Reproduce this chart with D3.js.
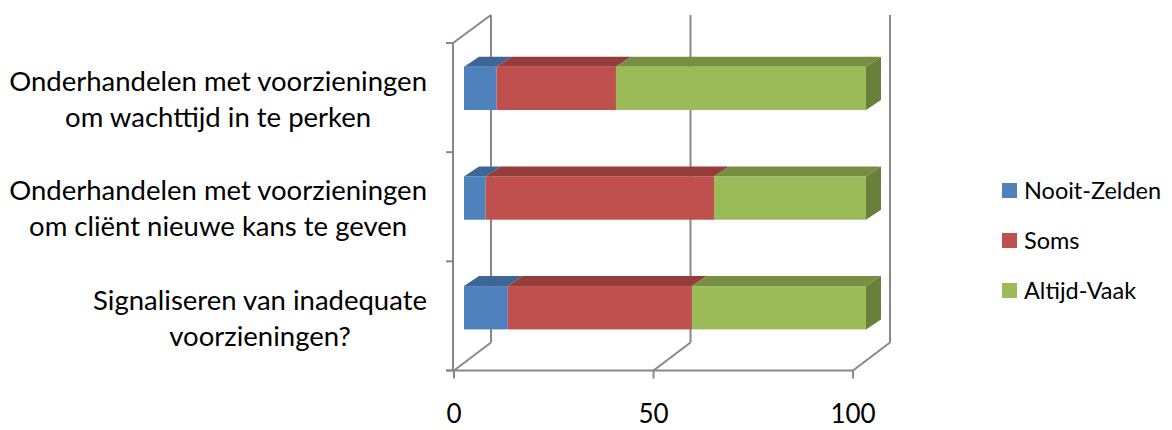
<!DOCTYPE html>
<html>
<head>
<meta charset="utf-8">
<script src="https://cdn.jsdelivr.net/npm/d3@7"></script>
<style>
  html, body { margin: 0; padding: 0; background: #fff; }
  svg { display: block; }
  text { font-family: Lato, "Open Sans", sans-serif; fill: #000; }
</style>
</head>
<body>
<svg id="chart" width="1172" height="430"></svg>
<script>
// Categories, top to bottom
const categories = [
  ["Onderhandelen met voorzieningen", "om wachttijd in te perken"],
  ["Onderhandelen met voorzieningen", "om cliënt nieuwe kans te geven"],
  ["Signaliseren van inadequate", "voorzieningen?"]
];
const seriesNames = ["Nooit-Zelden", "Soms", "Altijd-Vaak"];
const nooitZelden = [8.1, 5.4, 10.9];
const soms = [29.7, 56.8, 45.8];
const altijdVaak = [62.2, 37.8, 43.3];
const tickValues = [0, 50, 100];

const colors = {
  front: ["#4f81bd", "#c0504d", "#9bbb59"],
  top:   ["#3d6596", "#953d3b", "#788f43"],
  side:  ["#34567f", "#7e3331", "#67803a"]
};
const gridColor = "#888888";

const svg = d3.select("#chart");
const keys = categories.map((c, i) => "c" + i);

// Rows for the stack
const rows = keys.map((k, i) => ({
  key: k,
  "Nooit-Zelden": nooitZelden[i],
  "Soms": soms[i],
  "Altijd-Vaak": altijdVaak[i]
}));
const stacked = d3.stack().keys(seriesNames)(rows);

// Projection: front plane of the floor/walls and the receding depth
const depth = { dx: 37, dy: -28 };
const x = d3.scaleLinear().domain([0, 100]).range([454, 853]);
const yCat = d3.scaleBand().domain(keys).range([43, 370.5]);
const floorY = 370.5;
const wallTop = 43;

// Bars sit partway into the depth
const xBar = d3.scaleLinear().domain([0, 100]).range([464, 866]);
const yBar = d3.scaleBand().domain(keys).range([33.5, 362.6])
  .paddingInner(0.605).paddingOuter(0.3025);
const barDepth = { dx: 15, dy: -10 };

const grid = svg.append("g")
  .attr("stroke", gridColor)
  .attr("stroke-width", 2)
  .attr("fill", "none");

// Back wall gridlines
tickValues.forEach(v => {
  grid.append("line")
    .attr("x1", x(v) + depth.dx).attr("x2", x(v) + depth.dx)
    .attr("y1", wallTop + depth.dy).attr("y2", floorY + depth.dy);
  // floor diagonal
  grid.append("line")
    .attr("x1", x(v)).attr("y1", floorY)
    .attr("x2", x(v) + depth.dx).attr("y2", floorY + depth.dy);
});

// Left wall: front edge and top diagonal
grid.append("line")
  .attr("x1", x(0) - 1).attr("x2", x(0) - 1)
  .attr("y1", wallTop).attr("y2", floorY);
grid.append("line")
  .attr("x1", x(0) - 1).attr("y1", wallTop)
  .attr("x2", x(0) + depth.dx).attr("y2", wallTop + depth.dy);

// Category tick marks at band boundaries
const catBounds = keys.map(k => yCat(k)).concat([yCat.range()[1]]);
catBounds.forEach(yy => {
  grid.append("line")
    .attr("x1", x(0) - 8).attr("x2", x(0) - 1)
    .attr("y1", yy).attr("y2", yy);
});

// Front floor edge with value ticks
grid.append("line")
  .attr("x1", x(0) - 8).attr("x2", x(100))
  .attr("y1", floorY).attr("y2", floorY);
tickValues.forEach(v => {
  grid.append("line")
    .attr("x1", x(v)).attr("x2", x(v))
    .attr("y1", floorY).attr("y2", floorY + 8);
});

// Value axis labels
svg.append("g").selectAll("text")
  .data(tickValues)
  .join("text")
  .attr("x", d => x(d))
  .attr("y", 423)
  .attr("text-anchor", "middle")
  .style("font-size", "26px")
  .text(d => d);

// Bars: 3D stacked segments
const bars = svg.append("g");
stacked.forEach((layer, si) => {
  layer.forEach((seg, ci) => {
    const k = keys[ci];
    const x0 = xBar(seg[0]), x1 = xBar(seg[1]);
    const y0 = yBar(k), h = yBar.bandwidth();
    // top face
    bars.append("polygon")
      .attr("points", [
        [x0, y0], [x1, y0],
        [x1 + barDepth.dx, y0 + barDepth.dy], [x0 + barDepth.dx, y0 + barDepth.dy]
      ].map(p => p.join(",")).join(" "))
      .attr("fill", colors.top[si]);
    // front face
    bars.append("rect")
      .attr("x", x0).attr("y", y0)
      .attr("width", x1 - x0).attr("height", h)
      .attr("fill", colors.front[si]);
    // end face on the last segment
    if (si === stacked.length - 1) {
      bars.append("polygon")
        .attr("points", [
          [x1, y0], [x1 + barDepth.dx, y0 + barDepth.dy],
          [x1 + barDepth.dx, y0 + h + barDepth.dy], [x1, y0 + h]
        ].map(p => p.join(",")).join(" "))
        .attr("fill", colors.side[si]);
    }
  });
});

// Category labels: lines centred within a right-aligned block
const labelRight = 427;
const lineGap = 36;
const labels = svg.append("g").style("font-size", "27.5px");
categories.forEach((lines, i) => {
  const cy = yCat(keys[i]) + yCat.bandwidth() / 2 + 2;
  const g = labels.append("g");
  const texts = lines.map((ln, j) =>
    g.append("text")
      .attr("y", cy + (j - (lines.length - 1) / 2) * lineGap)
      .attr("dy", "0.35em")
      .attr("text-anchor", "middle")
      .text(ln));
  const maxW = d3.max(texts, t => t.node().getComputedTextLength());
  texts.forEach(t => t.attr("x", labelRight - maxW / 2));
});

// Legend
const legend = svg.append("g");
const legendY = [190.5, 240.5, 290.5];
seriesNames.forEach((name, i) => {
  legend.append("rect")
    .attr("x", 1002).attr("y", legendY[i] - 7.5)
    .attr("width", 15).attr("height", 15)
    .attr("fill", colors.front[i]);
  legend.append("text")
    .attr("x", 1024).attr("y", legendY[i])
    .attr("dy", "0.35em")
    .style("font-size", "23.5px")
    .text(name);
});
</script>
</body>
</html>
